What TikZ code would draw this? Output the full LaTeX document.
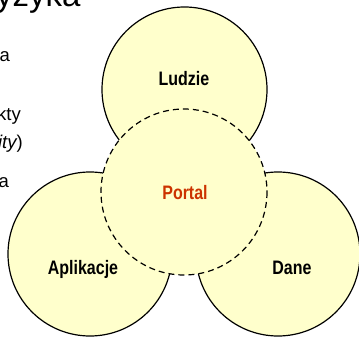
\documentclass[tikz,border=0pt]{standalone}
\usepackage{fontspec}
\setmainfont{Liberation Sans}
\newfontfamily\narrowfont[FakeStretch=0.82]{Liberation Sans}
\begin{document}
\begin{tikzpicture}[x=1pt,y=-1pt,
  area/.style={draw=black,line width=1.2pt,fill=areafill},
  core/.style={draw=black,line width=1.2pt,fill=areafill,dash pattern=on 6pt off 4pt},
  tag/.style={font=\narrowfont\fontsize{19.5}{22}\selectfont\bfseries,anchor=base,inner sep=0pt},
  side/.style={font=\fontsize{18.5}{22}\selectfont,anchor=base east,inner sep=0pt}]
\definecolor{areafill}{RGB}{255,255,204}
\definecolor{coretext}{RGB}{204,51,0}
\useasboundingbox (0,0) rectangle (359,337);
\clip (0,0) rectangle (359,337);

% fragments of the slide text on the left
\node[font=\fontsize{33}{38}\selectfont,anchor=base west,inner sep=0pt] (title) at (-4,7) {yzyka};
\node[side] (s1) at (10,62) {a};
\node[side] (s2) at (21,121) {kty};
\node[side] (s3) at (23,148) {\itshape ity\upshape)};
\node[side] (s4) at (9,187) {a};

% three outer areas
\draw[area] (184.5,89.5) circle[radius=82.5];
\draw[area] (90,254) circle[radius=82];
\draw[area] (278,254) circle[radius=82];
% shared portal in the middle
\draw[core] (184,192) circle[radius=83];

\node[tag] (ludzie) at (184,85) {Ludzie};
\node[tag,text=coretext] (portal) at (185,199) {Portal};
\node[tag] (apl) at (83,274) {Aplikacje};
\node[tag] (dane) at (292,274) {Dane};
\end{tikzpicture}
\end{document}
